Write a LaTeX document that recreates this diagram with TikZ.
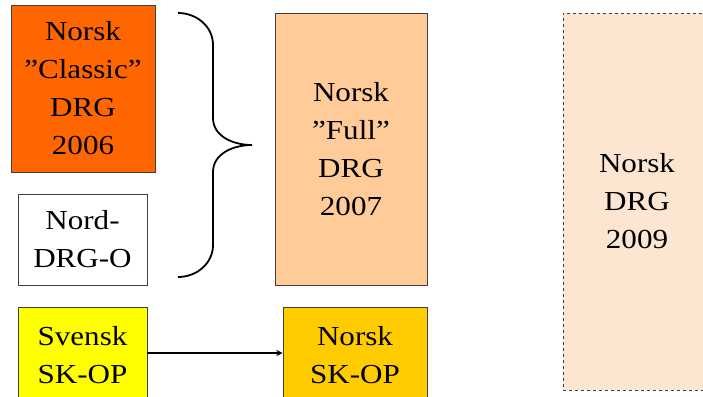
\documentclass[tikz,border=0pt]{standalone}
\usepackage{fontspec}
\setmainfont{Liberation Serif}
\newfontfamily\drgfont{Liberation Serif}[FakeStretch=1.13]
\usepackage{xcolor}
\definecolor{classic}{HTML}{FF6600}
\definecolor{full}{HTML}{FFCC99}
\definecolor{drgnine}{HTML}{FCE6D2}
\definecolor{svensk}{HTML}{FFFF00}
\definecolor{norskop}{HTML}{FFCC00}
\definecolor{edge}{HTML}{404040}
\tikzset{
  drgbox/.style={draw=edge,line width=0.8pt,inner sep=0pt,align=center,
    font=\drgfont\fontsize{27.5}{38}\selectfont},
}

\begin{document}
\begin{tikzpicture}[x=1pt,y=-1pt]
  \useasboundingbox (0,0) rectangle (703,396);
  \clip (0,0) rectangle (703,396);
  \fill[white] (0,0) rectangle (703,396);
  \node[drgbox,fill=classic,minimum width=144pt,minimum height=167pt] (classic) at (83,88.5) {Norsk\\”Classic”\\DRG\\2006};
  \node[drgbox,fill=white,minimum width=129pt,minimum height=91pt] (nord) at (82.5,239.5) {Nord-\\DRG-O};
  \node[drgbox,fill=full,minimum width=152pt,minimum height=272pt] (full) at (351,149) {Norsk\\”Full”\\DRG\\2007};
  \node[drgbox,fill=drgnine,dashed,minimum width=148pt,minimum height=377pt] (drg09) at (637,201.5) {Norsk\\DRG\\2009};
  \node[drgbox,fill=svensk,minimum width=129pt,minimum height=96pt] (svensk) at (82.5,355) {Svensk\\SK-OP};
  \node[drgbox,fill=norskop,minimum width=144pt,minimum height=96pt] (norskop) at (355,355) {Norsk\\SK-OP};
  % brace
  \draw[line width=1.8pt] (178,13) to[out=0,in=90] (213,45) -- (213,118)
    to[out=-90,in=180] (252,145) to[out=180,in=90] (213,172) -- (213,245)
    to[out=-90,in=0] (178,277);
  \draw[line width=1.8pt,-stealth] (svensk.east |- 0,353) -- (norskop.west |- 0,353);
\end{tikzpicture}
\end{document}
